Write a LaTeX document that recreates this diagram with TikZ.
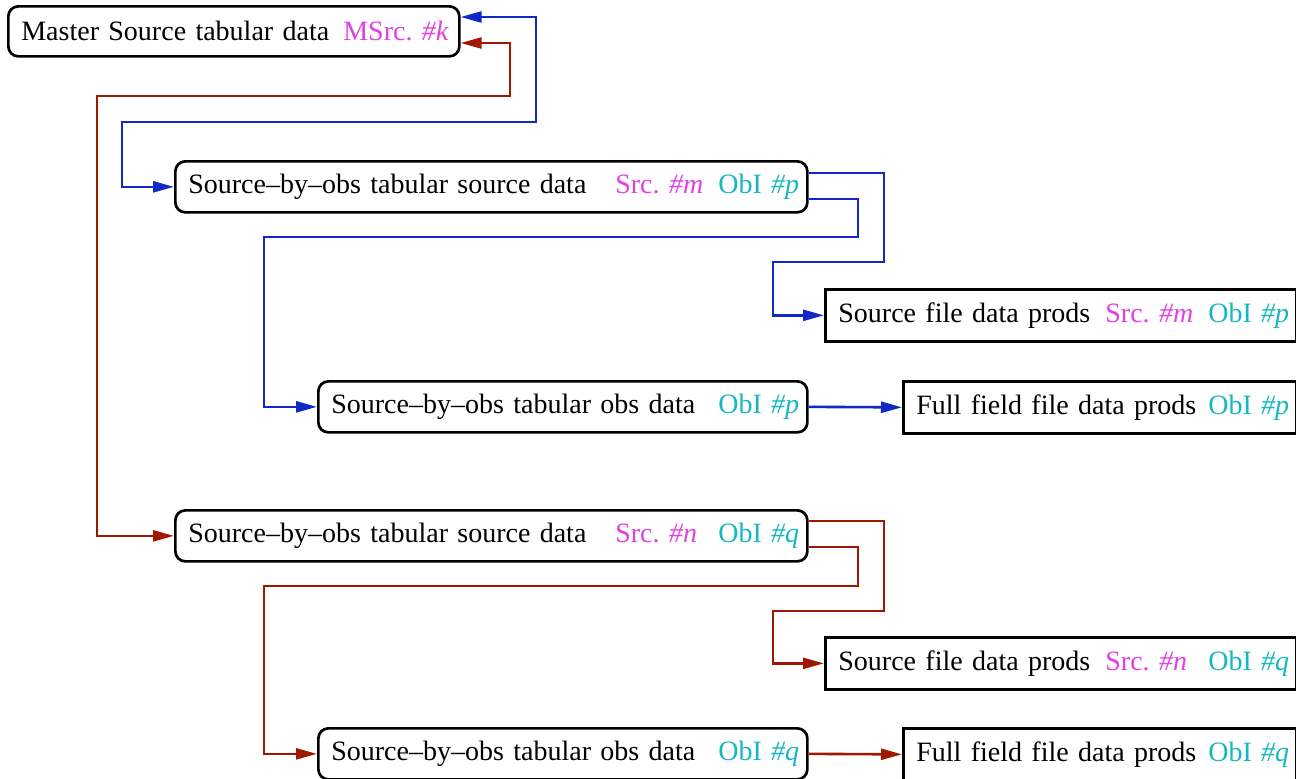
\documentclass[tikz,border=0pt]{standalone}
\usepackage{fontspec}
\setmainfont{Liberation Serif}
\usetikzlibrary{arrows.meta}
\definecolor{mg}{RGB}{226,64,226}
\definecolor{cy}{RGB}{20,184,192}
\definecolor{bl}{RGB}{16,40,200}
\definecolor{rd}{RGB}{160,24,0}
\newcommand{\mgt}[1]{\textcolor{mg}{#1}}
\newcommand{\cyt}[1]{\textcolor{cy}{#1}}
\newcommand{\col}[2]{\makebox[#1pt][l]{#2}}
\frenchspacing
\begin{document}
\begin{tikzpicture}[x=1pt,y=-1pt,
  base/.style={draw=black, line width=2.7pt, anchor=north west, inner xsep=13pt, inner ysep=0pt,
    align=left, font=\fontsize{28}{31}\selectfont},
  rbox/.style={base, rounded corners=10pt},
  sbox/.style={base},
  tip/.tip={Triangle[length=21pt,width=11pt]},
  link/.style={line width=2.6pt, -tip},
  dlink/.style={line width=2.6pt, tip-tip}]
\useasboundingbox[fill=white] (0,0) rectangle (1296,779);

\node[rbox, text width=425pt, minimum height=50pt] (n1) at (7,5)
  {\mbox{\col{322}{Master Source tabular data}\mgt{MSrc. \textit{\#k}}}};
\node[rbox, text width=606pt, minimum height=51pt] (n2) at (174,160)
  {\mbox{\col{427}{Source–by–obs tabular source data}\col{103}{\mgt{Src. \textit{\#m}}}\cyt{ObI \textit{\#p}}}};
\node[sbox, text width=445pt, minimum height=52pt] (n3) at (824,288)
  {\mbox{\col{267}{Source file data prods}\col{103}{\mgt{Src. \textit{\#m}}}\cyt{ObI \textit{\#p}}}};
\node[rbox, text width=463pt, minimum height=51pt] (n4) at (317,380)
  {\mbox{\col{387}{Source–by–obs tabular obs data}\cyt{ObI \textit{\#p}}}};
\node[sbox, text width=367pt, minimum height=52pt] (n6) at (902,380)
  {\mbox{\col{292}{Full field file data prods}\cyt{ObI \textit{\#p}}}};
\node[rbox, text width=606pt, minimum height=51pt] (n5) at (174,509)
  {\mbox{\col{427}{Source–by–obs tabular source data}\col{103}{\mgt{Src. \textit{\#n}}}\cyt{ObI \textit{\#q}}}};
\node[sbox, text width=445pt, minimum height=52pt] (n7) at (824,636)
  {\mbox{\col{267}{Source file data prods}\col{103}{\mgt{Src. \textit{\#n}}}\cyt{ObI \textit{\#q}}}};
\node[rbox, text width=463pt, minimum height=51pt] (n8) at (317,727)
  {\mbox{\col{387}{Source–by–obs tabular obs data}\cyt{ObI \textit{\#q}}}};
\node[sbox, text width=367pt, minimum height=52pt] (n9) at (902,727)
  {\mbox{\col{292}{Full field file data prods}\cyt{ObI \textit{\#q}}}};

% blue group
\draw[dlink, bl] (n1.east |- 0,17) -- (536,17) -- (536,122) -- (122,122) -- (122,0 |- n2.west) -- (n2.west);
\draw[link, bl] (n2.east |- 0,173) -- (884,173) -- (884,262) -- (773,262) -- (773,0 |- n3.west) -- (n3.west);
\draw[link, bl] (n2.east |- 0,199) -- (858,199) -- (858,237) -- (264,237) -- (264,0 |- n4.west) -- (n4.west);
\draw[link, bl] (n4.east) -- (n6.west);

% red group
\draw[dlink, rd] (n1.east |- 0,43) -- (510,43) -- (510,96) -- (97,96) -- (97,0 |- n5.west) -- (n5.west);
\draw[link, rd] (n5.east |- 0,521) -- (884,521) -- (884,611) -- (773,611) -- (773,0 |- n7.west) -- (n7.west);
\draw[link, rd] (n5.east |- 0,547) -- (858,547) -- (858,586) -- (264,586) -- (264,0 |- n8.west) -- (n8.west);
\draw[link, rd] (n8.east) -- (n9.west);
\end{tikzpicture}
\end{document}
